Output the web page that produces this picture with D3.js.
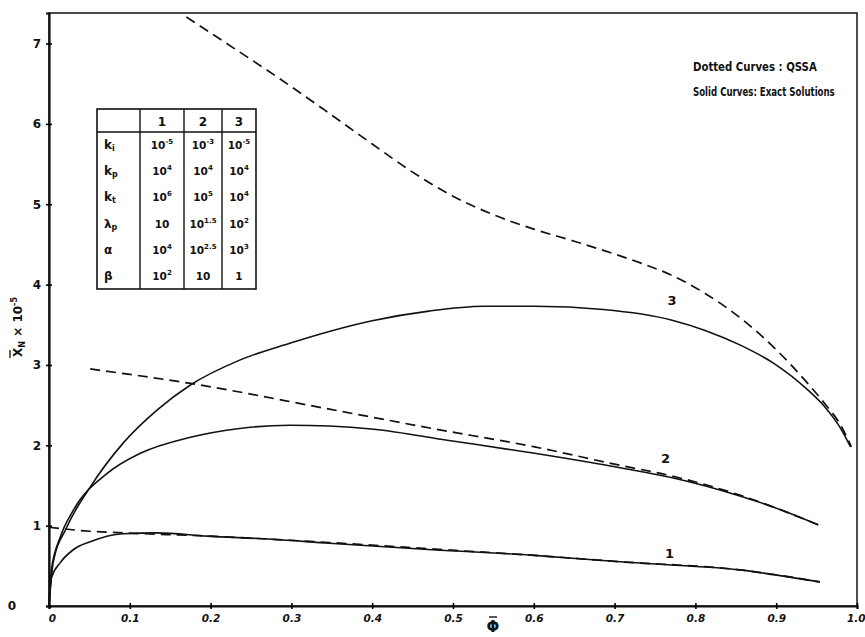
<!DOCTYPE html>
<html>
<head>
<meta charset="utf-8">
<script src="https://cdn.jsdelivr.net/npm/d3@7"></script>
<style>
  html, body { margin: 0; padding: 0; background: #fff; }
  svg { display: block; }
  text { font-family: "DejaVu Sans", sans-serif; fill: #111; }
</style>
</head>
<body>
<svg id="chart" width="865" height="637"></svg>
<script>
// Φ values and X̄N (×10^-5) for the exact solutions (solid) and QSSA (dashed)
const exact1 = [[0,0],[0.003,0.35],[0.014,0.54],[0.030,0.70],[0.051,0.80],[0.092,0.90],[0.134,0.91],[0.196,0.87],[0.277,0.83],[0.347,0.78],[0.474,0.70],[0.601,0.63],[0.707,0.55],[0.770,0.51],[0.855,0.45],[0.897,0.39],[0.954,0.30]];
const exact2 = [[0,0],[0.003,0.45],[0.014,0.86],[0.030,1.19],[0.072,1.65],[0.113,1.90],[0.175,2.10],[0.236,2.21],[0.298,2.25],[0.347,2.24],[0.402,2.20],[0.495,2.06],[0.601,1.90],[0.707,1.72],[0.770,1.60],[0.855,1.37],[0.897,1.23],[0.952,1.01]];
const exact3 = [[0,0],[0.005,0.53],[0.022,0.98],[0.051,1.48],[0.092,2.03],[0.134,2.44],[0.175,2.75],[0.236,3.06],[0.298,3.27],[0.348,3.42],[0.400,3.55],[0.470,3.67],[0.538,3.73],[0.601,3.73],[0.686,3.69],[0.770,3.56],[0.812,3.43],[0.855,3.25],[0.897,3.02],[0.939,2.69],[0.960,2.48],[0.981,2.19],[0.992,1.98]];
const qssa1 = [[0,0.98],[0.051,0.93],[0.092,0.91],[0.196,0.87],[0.347,0.79],[0.474,0.71],[0.601,0.63],[0.707,0.55],[0.855,0.45],[0.954,0.30]];
const qssa2 = [[0.051,2.95],[0.175,2.77],[0.347,2.45],[0.474,2.21],[0.601,1.98],[0.707,1.75],[0.770,1.62],[0.855,1.38],[0.952,1.01]];
const qssa3 = [[0.170,7.33],[0.220,7.00],[0.280,6.60],[0.340,6.18],[0.400,5.75],[0.450,5.40],[0.500,5.10],[0.550,4.87],[0.600,4.69],[0.650,4.54],[0.700,4.38],[0.740,4.24],[0.770,4.12],[0.812,3.89],[0.855,3.59],[0.897,3.22],[0.939,2.77],[0.960,2.52],[0.981,2.23],[0.993,1.98]];

const xTicks = [0,0.1,0.2,0.3,0.4,0.5,0.6,0.7,0.8,0.9,1.0];
const xTickLabels = ["0","0.1","0.2","0.3","0.4","0.5","0.6","0.7","0.8","0.9","1.0"];
const yTicks = [0,1,2,3,4,5,6,7];
const yTickLabels = ["0","1","2","3","4","5","6","7"];

// curve number labels, placed at a Φ / X̄N position
const curveLabels = [["1",0.768,0.60],["2",0.763,1.78],["3",0.771,3.74]];

// notes in the upper right: text and target width
const notes = [["Dotted Curves : QSSA", 71, 124], ["Solid Curves: Exact Solutions", 96, 142]];

// parameter table
const tableHeader = ["1","2","3"];
const tableRows = [
  {sym:"k", sub:"i", vals:[["10","-5"],["10","-3"],["10","-5"]]},
  {sym:"k", sub:"p", vals:[["10","4"],["10","4"],["10","4"]]},
  {sym:"k", sub:"t", vals:[["10","6"],["10","5"],["10","4"]]},
  {sym:"λ", sub:"p", vals:[["10",""],["10","1.5"],["10","2"]]},
  {sym:"α", sub:"",  vals:[["10","4"],["10","2.5"],["10","3"]]},
  {sym:"β", sub:"",  vals:[["10","2"],["10",""],["1",""]]}
];

const svg = d3.select("#chart");
const x = d3.scaleLinear().domain([0, 1]).range([49, 857]);
const y = d3.scaleLinear().domain([0, 7.38]).range([606, 13]);

// frame
svg.append("rect")
  .attr("x", x(0)).attr("y", y(7.38))
  .attr("width", x(1) - x(0)).attr("height", y(0) - y(7.38))
  .attr("fill", "none").attr("stroke", "#111").attr("stroke-width", 1.5);

// axes with small cross ticks
const yAxis = svg.append("g").attr("transform", `translate(${x(0)},0)`)
  .call(d3.axisLeft(y).tickValues(yTicks).tickSize(3).tickFormat((d,i) => yTickLabels[i]));
yAxis.select(".domain").attr("stroke", "#111").attr("stroke-width", 2.2);
yAxis.selectAll(".tick line").attr("x1", -3).attr("x2", 3).attr("stroke-width", 1.6);
yAxis.selectAll(".tick text")
  .attr("x", -8).style("font-size", "12px").style("font-weight", "bold").attr("fill", "#111");
yAxis.selectAll(".tick text").filter(d => d === 0).attr("x", -33);

const xAxis = svg.append("g").attr("transform", `translate(0,${y(0)})`)
  .call(d3.axisBottom(x).tickValues(xTicks).tickSize(3).tickFormat((d,i) => xTickLabels[i]));
xAxis.select(".domain").attr("stroke", "#111").attr("stroke-width", 2);
xAxis.selectAll(".tick line").attr("y1", -3).attr("y2", 3).attr("stroke-width", 1.6);
xAxis.selectAll(".tick text")
  .attr("y", 9).style("font-size", "10.5px").style("font-weight", "bold").style("font-style", "italic").attr("fill", "#111");
xAxis.selectAll(".tick text").filter(d => d === 0).attr("dx", 3);
xAxis.selectAll(".tick text").filter(d => d === 1).attr("text-anchor", "end").attr("dx", 8);

// axis titles
svg.append("text").attr("x", 493).attr("y", 632)
  .attr("text-anchor", "middle").style("font-size", "15px").style("font-weight", "bold")
  .text("Φ");
svg.append("line").attr("x1", 489).attr("x2", 497).attr("y1", 617).attr("y2", 617)
  .attr("stroke", "#111").attr("stroke-width", 1.4);

const yl = svg.append("text")
  .attr("transform", "translate(22,327) rotate(-90)")
  .attr("text-anchor", "middle").style("font-size", "12px").style("font-weight", "bold");
yl.append("tspan").text("X");
yl.append("tspan").attr("dy", 3).style("font-size", "8px").text("N");
yl.append("tspan").attr("dy", -3).text(" × 10");
yl.append("tspan").attr("dy", -5).style("font-size", "8px").text("-5");
// bar over X
svg.append("line").attr("x1", 10).attr("x2", 10).attr("y1", 350).attr("y2", 358)
  .attr("stroke", "#111").attr("stroke-width", 1.3);

// curves
const line = d3.line().x(d => x(d[0])).y(d => y(d[1])).curve(d3.curveMonotoneX);
const solids = [exact1, exact2, exact3];
const dashes = [qssa1, qssa2, qssa3];

svg.append("g").selectAll("path").data(dashes).join("path")
  .attr("d", line).attr("fill", "none").attr("stroke", "#111")
  .attr("stroke-width", 1.7).attr("stroke-dasharray", "10,6");
svg.append("g").selectAll("path").data(solids).join("path")
  .attr("d", line).attr("fill", "none").attr("stroke", "#111")
  .attr("stroke-width", 1.6);

svg.append("g").selectAll("text").data(curveLabels).join("text")
  .attr("x", d => x(d[1])).attr("y", d => y(d[2]))
  .attr("text-anchor", "middle").style("font-size", "13px").style("font-weight", "bold")
  .text(d => d[0]);

// notes, squeezed horizontally to the lettering's narrow width
notes.forEach(([txt, ty, w]) => {
  const t = svg.append("text").attr("x", 0).attr("y", 0)
    .style("font-size", "12.5px").style("font-weight", "bold").text(txt);
  const natural = t.node().getComputedTextLength();
  t.attr("transform", `translate(693,${ty}) scale(${w / natural},1)`);
});

// parameter table
const tb = {left: 97, top: 109, right: 256, headerBottom: 132, bottom: 289};
const colX = [tb.left, 140, 184, 222, tb.right];
const rowH = (tb.bottom - tb.headerBottom) / tableRows.length;
const tg = svg.append("g");
tg.append("rect").attr("x", tb.left).attr("y", tb.top)
  .attr("width", tb.right - tb.left).attr("height", tb.bottom - tb.top)
  .attr("fill", "#fff").attr("stroke", "#111").attr("stroke-width", 1.6);
tg.append("line").attr("x1", tb.left).attr("x2", tb.right)
  .attr("y1", tb.headerBottom).attr("y2", tb.headerBottom)
  .attr("stroke", "#111").attr("stroke-width", 1.4);
tg.selectAll("line.col").data(colX.slice(1, 4)).join("line").attr("class", "col")
  .attr("x1", d => d).attr("x2", d => d).attr("y1", tb.top).attr("y2", tb.bottom)
  .attr("stroke", "#111").attr("stroke-width", 1.4);
tg.selectAll("text.hdr").data(tableHeader).join("text").attr("class", "hdr")
  .attr("x", (d,i) => (colX[i+1] + colX[i+2]) / 2).attr("y", tb.top + 17)
  .attr("text-anchor", "middle").style("font-size", "12px").style("font-weight", "bold")
  .text(d => d);

tableRows.forEach((r, ri) => {
  const cy = tb.headerBottom + rowH * (ri + 0.5) + 4;
  const lab = tg.append("text").attr("x", 104).attr("y", cy)
    .style("font-size", "12px").style("font-weight", "bold");
  lab.append("tspan").text(r.sym);
  if (r.sub) lab.append("tspan").attr("dy", 2).style("font-size", "8px").text(r.sub);
  r.vals.forEach((v, ci) => {
    const t = tg.append("text").attr("x", (colX[ci+1] + colX[ci+2]) / 2).attr("y", cy)
      .attr("text-anchor", "middle").style("font-size", "10.5px").style("font-weight", "bold");
    t.append("tspan").text(v[0]);
    if (v[1]) t.append("tspan").attr("dy", -5).style("font-size", "7px").text(v[1]);
  });
});
</script>
</body>
</html>
